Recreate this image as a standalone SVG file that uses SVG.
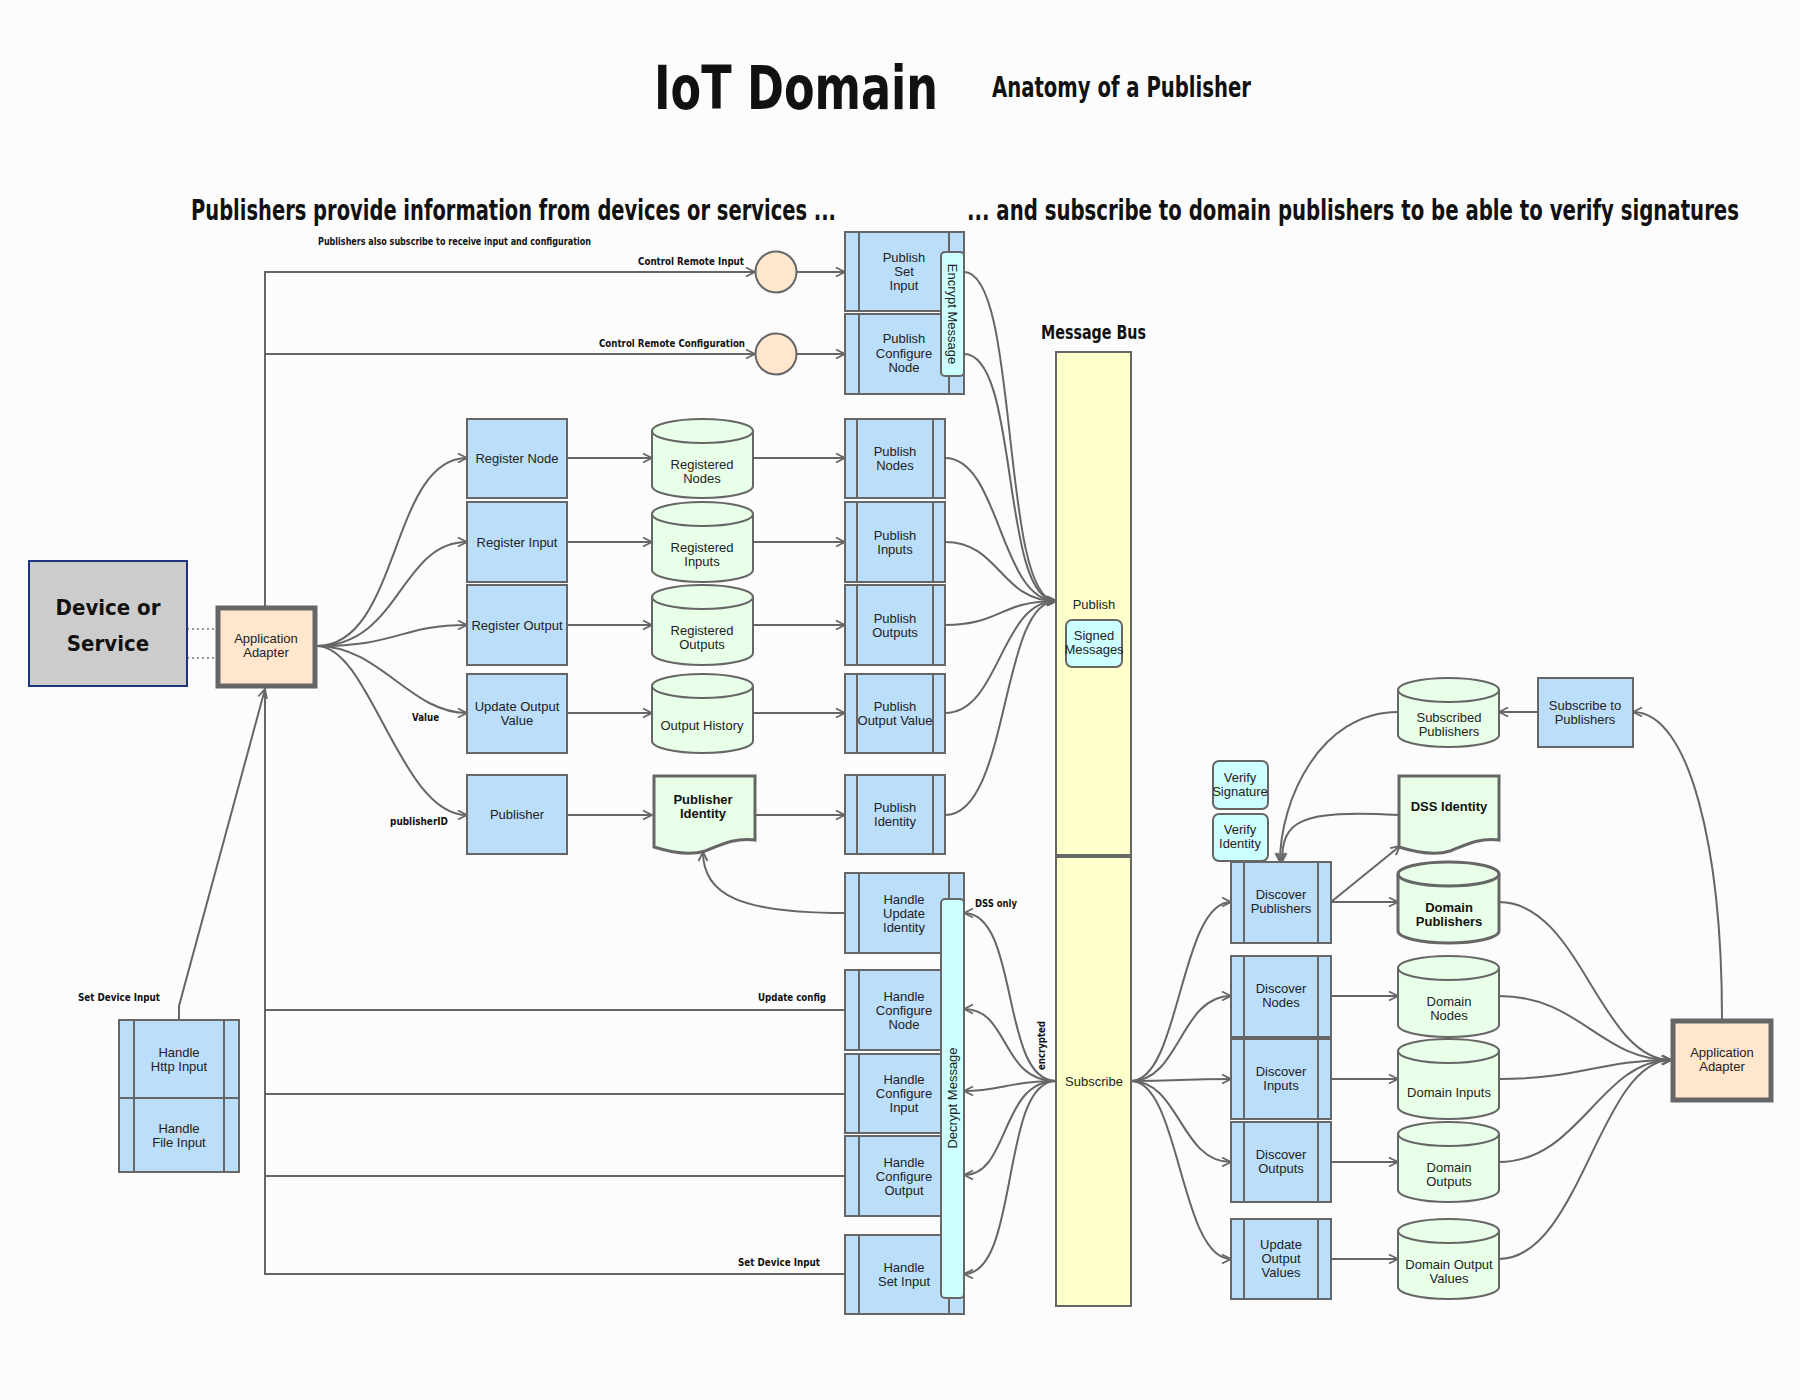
<svg xmlns="http://www.w3.org/2000/svg" width="1800" height="1400" viewBox="0 0 1800 1400">
<defs>
<marker id="arr" viewBox="0 0 12 12" refX="11" refY="6" markerWidth="12" markerHeight="12" markerUnits="userSpaceOnUse" orient="auto">
<path d="M2,1.5 L11,6 L2,10.5" fill="none" stroke="#666" stroke-width="1.8"/>
</marker>
</defs>
<style>
.bg{fill:#fcfcfc}
.blue{fill:#bbdefb;stroke:#666;stroke-width:2}
.green{fill:#e8ffe8;stroke:#666;stroke-width:2}
.peach{fill:#ffe6cc;stroke:#666;stroke-width:5}
.cyan{fill:#ccffff;stroke:#666;stroke-width:2}
.yellow{fill:#ffffcc;stroke:#666;stroke-width:2}
.inner{stroke:#666;stroke-width:2;fill:none}
.t{font-family:"Liberation Sans",Arial,sans-serif;font-size:13px;fill:#222;text-anchor:middle}
.tb{font-family:"Liberation Sans",Arial,sans-serif;font-size:13px;font-weight:bold;fill:#111;text-anchor:middle}
.hw{font-family:"DejaVu Sans Condensed","DejaVu Sans",sans-serif;font-weight:bold;fill:#111}
.c{fill:none;stroke:#666;stroke-width:2}
.ca{fill:none;stroke:#666;stroke-width:2;marker-end:url(#arr)}
.dot{fill:none;stroke:#777;stroke-width:1.5;stroke-dasharray:2 3}
</style>
<rect class="bg" x="0" y="0" width="1800" height="1400"/>

<!-- titles -->
<g id="titles">
<text class="hw" x="654" y="109" font-size="60" textLength="284" lengthAdjust="spacingAndGlyphs">IoT Domain</text>
<text class="hw" x="992" y="97" font-size="28" textLength="259" lengthAdjust="spacingAndGlyphs">Anatomy of a Publisher</text>
<text class="hw" font-size="21" textLength="645" lengthAdjust="spacingAndGlyphs" transform="translate(191 220) scale(1 1.35)">Publishers provide information from devices or services ...</text>
<text class="hw" font-size="21" textLength="772" lengthAdjust="spacingAndGlyphs" transform="translate(967 220) scale(1 1.35)">... and subscribe to domain publishers to be able to verify signatures</text>
<text class="hw" x="318" y="245" font-size="11" textLength="273" lengthAdjust="spacingAndGlyphs">Publishers also subscribe to receive input and configuration</text>
<text class="hw" x="1041" y="339" font-size="20" textLength="105" lengthAdjust="spacingAndGlyphs">Message Bus</text>
</g>

<!-- connectors -->
<g id="connectors">
<path class="dot" d="M187 629 H216"/>
<path class="dot" d="M187 658 H216"/>
<path class="ca" d="M265 606 V272 H755"/>
<path class="ca" d="M265 354 H755"/>
<path class="ca" d="M797 272 H845"/>
<path class="ca" d="M797 354 H845"/>
<path class="ca" d="M317 646 C400 646 390 458 467 458"/>
<path class="ca" d="M317 646 C400 646 400 542 467 542"/>
<path class="ca" d="M317 646 C400 646 400 625 467 625"/>
<path class="ca" d="M317 646 C380 646 410 713 467 713"/>
<path class="ca" d="M317 646 C370 646 400 815 467 815"/>
<path class="ca" d="M567 458 H652"/>
<path class="ca" d="M567 542 H652"/>
<path class="ca" d="M567 625 H652"/>
<path class="ca" d="M567 713 H652"/>
<path class="ca" d="M567 815 H652"/>
<path class="ca" d="M753 458 H845"/>
<path class="ca" d="M753 542 H845"/>
<path class="ca" d="M753 625 H845"/>
<path class="ca" d="M753 713 H845"/>
<path class="ca" d="M755 815 H845"/>
<path class="ca" d="M964 272 C1020 272 1000 601 1056 601"/>
<path class="ca" d="M964 354 C1020 354 1000 601 1056 601"/>
<path class="ca" d="M945 458 C1000 458 1000 601 1056 601"/>
<path class="ca" d="M945 542 C1000 542 1000 601 1056 601"/>
<path class="ca" d="M945 625 C1000 625 1000 601 1056 601"/>
<path class="ca" d="M945 713 C1000 713 1000 601 1056 601"/>
<path class="ca" d="M945 815 C1010 815 1000 601 1056 601"/>
<path class="ca" d="M1056 1081 C1000 1081 1020 913 964 913"/>
<path class="ca" d="M1056 1081 C1000 1081 1010 1009 964 1009"/>
<path class="ca" d="M1056 1081 C1010 1081 1000 1091 964 1091"/>
<path class="ca" d="M1056 1081 C1000 1081 1010 1175 964 1175"/>
<path class="ca" d="M1056 1081 C1000 1081 1020 1274 964 1274"/>
<path class="ca" d="M845 913 C740 913 703 895 703 852"/>
<path class="c" d="M265 688 V1274 H845"/>
<path class="c" d="M265 1010 H845"/>
<path class="c" d="M265 1094 H845"/>
<path class="c" d="M265 1176 H845"/>
<path class="ca" d="M179 1020 V1006 L265 689"/>
<path class="ca" d="M1131 1081 C1180 1081 1180 902 1231 902"/>
<path class="ca" d="M1131 1081 C1180 1081 1180 996 1231 996"/>
<path class="ca" d="M1131 1081 C1180 1081 1180 1079 1231 1079"/>
<path class="ca" d="M1131 1081 C1180 1081 1180 1162 1231 1162"/>
<path class="ca" d="M1131 1081 C1180 1081 1180 1259 1231 1259"/>
<path class="ca" d="M1331 902 H1398"/>
<path class="ca" d="M1331 996 H1398"/>
<path class="ca" d="M1331 1079 H1398"/>
<path class="ca" d="M1331 1162 H1398"/>
<path class="ca" d="M1331 1259 H1398"/>
<path class="ca" d="M1331 902 L1400 846"/>
<path class="ca" d="M1499 902 C1580 902 1600 1060 1671 1060"/>
<path class="ca" d="M1499 996 C1580 996 1600 1060 1671 1060"/>
<path class="ca" d="M1499 1079 C1580 1079 1600 1060 1671 1060"/>
<path class="ca" d="M1499 1162 C1580 1162 1600 1060 1671 1060"/>
<path class="ca" d="M1499 1259 C1580 1259 1600 1060 1671 1060"/>
<path class="ca" d="M1722 1019 C1722 850 1690 712 1633 712"/>
<path class="ca" d="M1538 712 H1499"/>
<path class="ca" d="M1398 712 C1320 712 1280 800 1280 862"/>
<path class="ca" d="M1398 815 C1300 810 1282 820 1282 862"/>
</g>

<!-- connector labels -->
<g id="labels">
<text class="hw" x="638" y="265" font-size="11" textLength="106" lengthAdjust="spacingAndGlyphs">Control Remote Input</text>
<text class="hw" x="599" y="347" font-size="11" textLength="146" lengthAdjust="spacingAndGlyphs">Control Remote Configuration</text>
<text class="hw" x="412" y="721" font-size="11" textLength="27" lengthAdjust="spacingAndGlyphs">Value</text>
<text class="hw" x="390" y="825" font-size="11" textLength="58" lengthAdjust="spacingAndGlyphs">publisherID</text>
<text class="hw" x="78" y="1001" font-size="11" textLength="82" lengthAdjust="spacingAndGlyphs">Set Device Input</text>
<text class="hw" x="758" y="1001" font-size="11" textLength="68" lengthAdjust="spacingAndGlyphs">Update config</text>
<text class="hw" x="738" y="1266" font-size="11" textLength="82" lengthAdjust="spacingAndGlyphs">Set Device Input</text>
<text class="hw" x="975" y="907" font-size="11" textLength="42" lengthAdjust="spacingAndGlyphs">DSS only</text>
<text class="hw" font-size="11" textLength="49" lengthAdjust="spacingAndGlyphs" transform="translate(1045 1070) rotate(-90)">encrypted</text>
</g>

<!-- left -->
<g id="device">
<rect x="29" y="561" width="158" height="125" fill="#cccccc" stroke="#1f3380" stroke-width="2"/>
<text class="hw" x="108" y="615" font-size="22" text-anchor="middle">Device or</text>
<text class="hw" x="108" y="651" font-size="22" text-anchor="middle">Service</text>
</g>
<g id="adapter-left">
<rect class="peach" x="218" y="608" width="97" height="78"/>
<text class="t" x="266" y="643">Application</text>
<text class="t" x="266" y="657">Adapter</text>
</g>

<g id="circle-input"><circle cx="776" cy="272" r="20.5" fill="#ffe6cc" stroke="#666" stroke-width="2"/></g>
<g id="circle-config"><circle cx="776" cy="354" r="20.5" fill="#ffe6cc" stroke="#666" stroke-width="2"/></g>

<g id="publish-set-input">
<rect class="blue" x="845" y="232" width="119" height="79"/>
<path class="inner" d="M859 232 V311 M949 232 V311"/>
<text class="t" x="904" y="262">Publish</text>
<text class="t" x="904" y="276">Set</text>
<text class="t" x="904" y="290">Input</text>
</g>
<g id="publish-configure-node">
<rect class="blue" x="845" y="314" width="119" height="80"/>
<path class="inner" d="M859 314 V394 M949 314 V394"/>
<text class="t" x="904" y="343">Publish</text>
<text class="t" x="904" y="358">Configure</text>
<text class="t" x="904" y="372">Node</text>
</g>
<g id="encrypt-message">
<rect class="cyan" x="941" y="252" width="23" height="124" rx="4"/>
<text class="t" transform="translate(948 314) rotate(90)">Encrypt Message</text>
</g>

<g id="register-node"><rect class="blue" x="467" y="419" width="100" height="79"/><text class="t" x="517" y="463">Register Node</text></g>
<g id="register-input"><rect class="blue" x="467" y="502" width="100" height="80"/><text class="t" x="517" y="547">Register Input</text></g>
<g id="register-output"><rect class="blue" x="467" y="585" width="100" height="80"/><text class="t" x="517" y="630">Register Output</text></g>
<g id="update-output-value"><rect class="blue" x="467" y="674" width="100" height="79"/><text class="t" x="517" y="711">Update Output</text><text class="t" x="517" y="725">Value</text></g>
<g id="publisher"><rect class="blue" x="467" y="775" width="100" height="79"/><text class="t" x="517" y="819">Publisher</text></g>

<g id="registered-nodes">
<path class="green" d="M652 431 A50.5 12 0 0 1 753 431 V486 A50.5 12 0 0 1 652 486 Z"/>
<path class="inner" d="M652 431 A50.5 12 0 0 0 753 431"/>
<text class="t" x="702" y="469">Registered</text><text class="t" x="702" y="483">Nodes</text>
</g>
<g id="registered-inputs">
<path class="green" d="M652 514 A50.5 12 0 0 1 753 514 V570 A50.5 12 0 0 1 652 570 Z"/>
<path class="inner" d="M652 514 A50.5 12 0 0 0 753 514"/>
<text class="t" x="702" y="552">Registered</text><text class="t" x="702" y="566">Inputs</text>
</g>
<g id="registered-outputs">
<path class="green" d="M652 597 A50.5 12 0 0 1 753 597 V653 A50.5 12 0 0 1 652 653 Z"/>
<path class="inner" d="M652 597 A50.5 12 0 0 0 753 597"/>
<text class="t" x="702" y="635">Registered</text><text class="t" x="702" y="649">Outputs</text>
</g>
<g id="output-history">
<path class="green" d="M652 686 A50.5 12 0 0 1 753 686 V741 A50.5 12 0 0 1 652 741 Z"/>
<path class="inner" d="M652 686 A50.5 12 0 0 0 753 686"/>
<text class="t" x="702" y="730">Output History</text>
</g>
<g id="publisher-identity">
<path d="M654 776 H755 V840 C735 838 725 843 705 851 C690 856 670 852 654 847 Z" fill="#e8ffe8" stroke="#666" stroke-width="3"/>
<text class="tb" x="703" y="804">Publisher</text><text class="tb" x="703" y="818">Identity</text>
</g>

<g id="publish-nodes"><rect class="blue" x="845" y="419" width="100" height="79"/><path class="inner" d="M857 419 V498 M933 419 V498"/><text class="t" x="895" y="456">Publish</text><text class="t" x="895" y="470">Nodes</text></g>
<g id="publish-inputs"><rect class="blue" x="845" y="502" width="100" height="80"/><path class="inner" d="M857 502 V582 M933 502 V582"/><text class="t" x="895" y="540">Publish</text><text class="t" x="895" y="554">Inputs</text></g>
<g id="publish-outputs"><rect class="blue" x="845" y="585" width="100" height="80"/><path class="inner" d="M857 585 V665 M933 585 V665"/><text class="t" x="895" y="623">Publish</text><text class="t" x="895" y="637">Outputs</text></g>
<g id="publish-output-value"><rect class="blue" x="845" y="674" width="100" height="79"/><path class="inner" d="M857 674 V753 M933 674 V753"/><text class="t" x="895" y="711">Publish</text><text class="t" x="895" y="725">Output Value</text></g>
<g id="publish-identity"><rect class="blue" x="845" y="775" width="100" height="79"/><path class="inner" d="M857 775 V854 M933 775 V854"/><text class="t" x="895" y="812">Publish</text><text class="t" x="895" y="826">Identity</text></g>

<g id="handle-update-identity"><rect class="blue" x="845" y="873" width="119" height="80"/><path class="inner" d="M859 873 V953 M949 873 V953"/><text class="t" x="904" y="904">Handle</text><text class="t" x="904" y="918">Update</text><text class="t" x="904" y="932">Identity</text></g>
<g id="handle-configure-node"><rect class="blue" x="845" y="970" width="119" height="80"/><path class="inner" d="M859 970 V1050"/><text class="t" x="904" y="1001">Handle</text><text class="t" x="904" y="1015">Configure</text><text class="t" x="904" y="1029">Node</text></g>
<g id="handle-configure-input"><rect class="blue" x="845" y="1054" width="119" height="79"/><path class="inner" d="M859 1054 V1133"/><text class="t" x="904" y="1084">Handle</text><text class="t" x="904" y="1098">Configure</text><text class="t" x="904" y="1112">Input</text></g>
<g id="handle-configure-output"><rect class="blue" x="845" y="1136" width="119" height="80"/><path class="inner" d="M859 1136 V1216"/><text class="t" x="904" y="1167">Handle</text><text class="t" x="904" y="1181">Configure</text><text class="t" x="904" y="1195">Output</text></g>
<g id="handle-set-input"><rect class="blue" x="845" y="1235" width="119" height="79"/><path class="inner" d="M859 1235 V1314 M949 1235 V1314"/><text class="t" x="904" y="1272">Handle</text><text class="t" x="904" y="1286">Set Input</text></g>
<g id="decrypt-message">
<rect class="cyan" x="941" y="899" width="23" height="399" rx="4"/>
<text class="t" transform="translate(957 1098) rotate(-90)">Decrypt Message</text>
</g>

<g id="handle-http-input"><rect class="blue" x="119" y="1020" width="120" height="78"/><path class="inner" d="M134 1020 V1098 M224 1020 V1098"/><text class="t" x="179" y="1057">Handle</text><text class="t" x="179" y="1071">Http Input</text></g>
<g id="handle-file-input"><rect class="blue" x="119" y="1098" width="120" height="74"/><path class="inner" d="M134 1098 V1172 M224 1098 V1172"/><text class="t" x="179" y="1133">Handle</text><text class="t" x="179" y="1147">File Input</text></g>

<!-- message bus -->
<g id="bus-publish">
<rect class="yellow" x="1056" y="352" width="75" height="503"/>
<text class="t" x="1094" y="609">Publish</text>
<rect class="cyan" x="1066" y="620" width="56" height="47" rx="6"/>
<text class="t" x="1094" y="640">Signed</text><text class="t" x="1094" y="654">Messages</text>
</g>
<g id="bus-subscribe">
<rect class="yellow" x="1056" y="857" width="75" height="449"/>
<text class="t" x="1094" y="1086">Subscribe</text>
</g>

<!-- right -->
<g id="verify-signature"><rect class="cyan" x="1213" y="761" width="55" height="48" rx="6"/><text class="t" x="1240" y="782">Verify</text><text class="t" x="1240" y="796">Signature</text></g>
<g id="verify-identity"><rect class="cyan" x="1213" y="814" width="55" height="47" rx="6"/><text class="t" x="1240" y="834">Verify</text><text class="t" x="1240" y="848">Identity</text></g>

<g id="discover-publishers"><rect class="blue" x="1231" y="862" width="100" height="81"/><path class="inner" d="M1244 862 V943 M1318 862 V943"/><text class="t" x="1281" y="899">Discover</text><text class="t" x="1281" y="913">Publishers</text></g>
<g id="discover-nodes"><rect class="blue" x="1231" y="956" width="100" height="81"/><path class="inner" d="M1244 956 V1037 M1318 956 V1037"/><text class="t" x="1281" y="993">Discover</text><text class="t" x="1281" y="1007">Nodes</text></g>
<g id="discover-inputs"><rect class="blue" x="1231" y="1039" width="100" height="80"/><path class="inner" d="M1244 1039 V1119 M1318 1039 V1119"/><text class="t" x="1281" y="1076">Discover</text><text class="t" x="1281" y="1090">Inputs</text></g>
<g id="discover-outputs"><rect class="blue" x="1231" y="1122" width="100" height="80"/><path class="inner" d="M1244 1122 V1202 M1318 1122 V1202"/><text class="t" x="1281" y="1159">Discover</text><text class="t" x="1281" y="1173">Outputs</text></g>
<g id="update-output-values"><rect class="blue" x="1231" y="1219" width="100" height="80"/><path class="inner" d="M1244 1219 V1299 M1318 1219 V1299"/><text class="t" x="1281" y="1249">Update</text><text class="t" x="1281" y="1263">Output</text><text class="t" x="1281" y="1277">Values</text></g>

<g id="subscribed-publishers">
<path class="green" d="M1398 690 A50.5 12 0 0 1 1499 690 V735 A50.5 12 0 0 1 1398 735 Z"/>
<path class="inner" d="M1398 690 A50.5 12 0 0 0 1499 690"/>
<text class="t" x="1449" y="722">Subscribed</text><text class="t" x="1449" y="736">Publishers</text>
</g>
<g id="dss-identity">
<path d="M1399 776 H1499 V840 C1480 838 1470 843 1450 851 C1435 856 1415 852 1399 847 Z" fill="#e8ffe8" stroke="#666" stroke-width="3"/>
<text class="tb" x="1449" y="811">DSS Identity</text>
</g>
<g id="domain-publishers">
<path d="M1398 874 A50.5 12 0 0 1 1499 874 V931 A50.5 12 0 0 1 1398 931 Z" fill="#e8ffe8" stroke="#666" stroke-width="3"/>
<path d="M1398 874 A50.5 12 0 0 0 1499 874" fill="none" stroke="#666" stroke-width="3"/>
<text class="tb" x="1449" y="912">Domain</text><text class="tb" x="1449" y="926">Publishers</text>
</g>
<g id="domain-nodes">
<path class="green" d="M1398 968 A50.5 12 0 0 1 1499 968 V1025 A50.5 12 0 0 1 1398 1025 Z"/>
<path class="inner" d="M1398 968 A50.5 12 0 0 0 1499 968"/>
<text class="t" x="1449" y="1006">Domain</text><text class="t" x="1449" y="1020">Nodes</text>
</g>
<g id="domain-inputs">
<path class="green" d="M1398 1051 A50.5 12 0 0 1 1499 1051 V1107 A50.5 12 0 0 1 1398 1107 Z"/>
<path class="inner" d="M1398 1051 A50.5 12 0 0 0 1499 1051"/>
<text class="t" x="1449" y="1097">Domain Inputs</text>
</g>
<g id="domain-outputs">
<path class="green" d="M1398 1134 A50.5 12 0 0 1 1499 1134 V1190 A50.5 12 0 0 1 1398 1190 Z"/>
<path class="inner" d="M1398 1134 A50.5 12 0 0 0 1499 1134"/>
<text class="t" x="1449" y="1172">Domain</text><text class="t" x="1449" y="1186">Outputs</text>
</g>
<g id="domain-output-values">
<path class="green" d="M1398 1231 A50.5 12 0 0 1 1499 1231 V1287 A50.5 12 0 0 1 1398 1287 Z"/>
<path class="inner" d="M1398 1231 A50.5 12 0 0 0 1499 1231"/>
<text class="t" x="1449" y="1269">Domain Output</text><text class="t" x="1449" y="1283">Values</text>
</g>

<g id="subscribe-to-publishers"><rect class="blue" x="1538" y="678" width="95" height="69"/><text class="t" x="1585" y="710">Subscribe to</text><text class="t" x="1585" y="724">Publishers</text></g>
<g id="adapter-right">
<rect class="peach" x="1673" y="1021" width="98" height="79"/>
<text class="t" x="1722" y="1057">Application</text>
<text class="t" x="1722" y="1071">Adapter</text>
</g>
</svg>
